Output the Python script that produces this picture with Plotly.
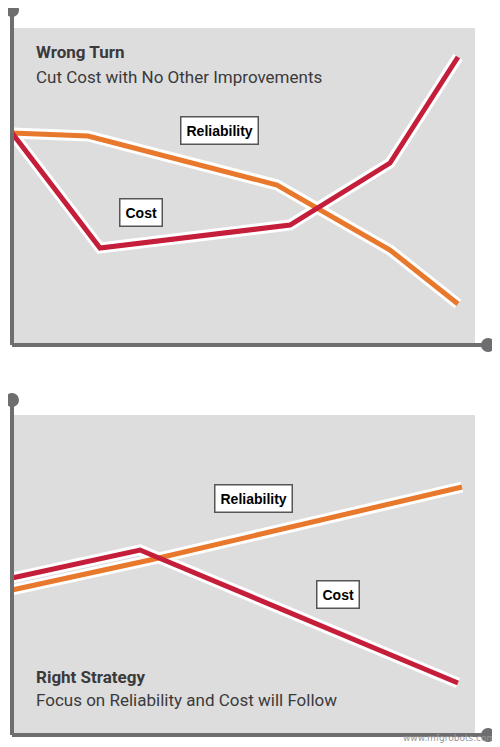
import plotly.graph_objects as go

# Top panel (chart units: x 0..500, y 0..747 from top)
top_rel_x = [12, 88, 277, 390, 458]
top_rel_y = [133, 136, 185, 250, 304]
top_cost_x = [12, 100, 290, 390, 458]
top_cost_y = [133, 248, 225, 163, 57]
# Bottom panel
bot_rel_x = [12, 150, 462]
bot_rel_y = [590, 560, 487]
bot_cost_x = [12, 140, 458]
bot_cost_y = [578, 550, 683]

ORANGE = "#E8782C"
RED = "#C41E3A"
AX = "#6E6E70"

fig = go.Figure()
shapes = []
for (x0, y0, x1, y1) in [(12, 28, 475, 343), (12, 415, 475, 733)]:
    shapes.append(dict(type="rect", x0=x0, y0=y0, x1=x1, y1=y1, fillcolor="#DDDDDE", line=dict(width=0), layer="below"))
for (ytop, ybot) in [(10, 345), (400, 735)]:
    shapes.append(dict(type="line", x0=12, y0=ytop, x1=12, y1=ybot, line=dict(color=AX, width=4)))
    shapes.append(dict(type="line", x0=12, y0=ybot, x1=488, y1=ybot, line=dict(color=AX, width=4)))
fig.update_layout(shapes=shapes)

for x, y in [(top_rel_x, top_rel_y), (top_cost_x, top_cost_y), (bot_rel_x, bot_rel_y), (bot_cost_x, bot_cost_y)]:
    fig.add_trace(go.Scatter(x=x, y=y, mode="lines", line=dict(color="white", width=11), hoverinfo="skip"))
for x, y, c in [(top_rel_x, top_rel_y, ORANGE), (top_cost_x, top_cost_y, RED), (bot_rel_x, bot_rel_y, ORANGE), (bot_cost_x, bot_cost_y, RED)]:
    fig.add_trace(go.Scatter(x=x, y=y, mode="lines", line=dict(color=c, width=5)))
fig.add_trace(go.Scatter(x=[12, 488, 12, 488], y=[10, 345, 400, 735], mode="markers",
                         marker=dict(color=AX, size=14)))

for txt, x, y in [("Reliability", 219, 130), ("Cost", 141, 212), ("Reliability", 253, 498), ("Cost", 338, 594)]:
    fig.add_annotation(x=x, y=y, text="<b>%s</b>" % txt, showarrow=False,
                       font=dict(family="Liberation Sans", size=14, color="black"),
                       bgcolor="white", bordercolor="#555", borderwidth=1.5, borderpad=5)

for txt, y, bold in [("Wrong Turn", 52, True), ("Cut Cost with No Other Improvements", 77, False),
                     ("Right Strategy", 677, True), ("Focus on Reliability and Cost will Follow", 700, False)]:
    fig.add_annotation(x=34, y=y, xanchor="left", text=("<b>%s</b>" % txt) if bold else txt, showarrow=False,
                       font=dict(family="Roboto", size=17, color="#3a3a3a"))

fig.add_annotation(x=497, y=745, xanchor="right", yanchor="bottom", text="www.mfgrobots.com",
                   showarrow=False, font=dict(family="DejaVu Sans", size=9, color="#999"))

# ranges offset by 8px to compensate for the page's default body margin
fig.update_layout(width=500, height=747, margin=dict(l=0, r=0, t=0, b=0), showlegend=False,
                  plot_bgcolor="white", paper_bgcolor="white",
                  xaxis=dict(range=[8, 508], visible=False, fixedrange=True),
                  yaxis=dict(range=[755, 8], visible=False, fixedrange=True))
fig.write_html("out.html")
